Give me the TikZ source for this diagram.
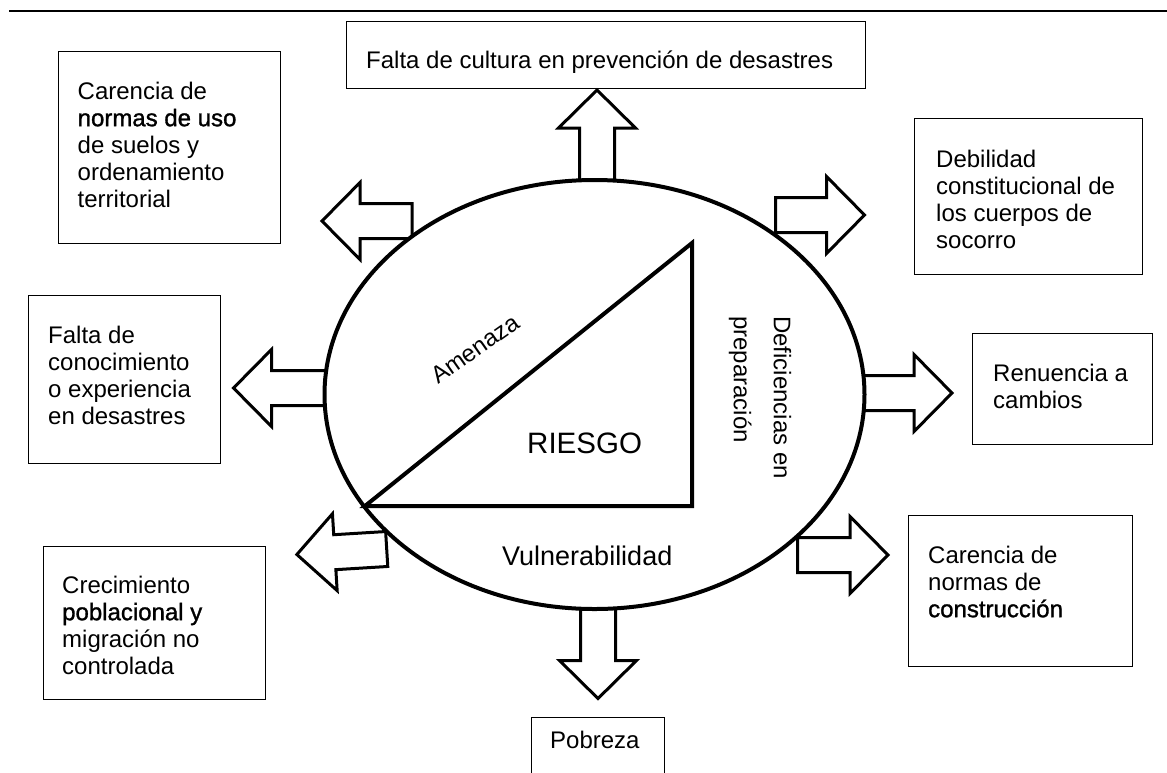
\documentclass[tikz,border=0pt]{standalone}
\usepackage{fontspec}
\setmainfont{Liberation Sans}
\newfontfamily\sbfont[FakeBold=1.2]{Liberation Sans}
\usetikzlibrary{shapes.geometric}
\newcommand\topstrut{\rule{0pt}{19pt}}
\begin{document}
\begin{tikzpicture}[x=1pt,y=-1pt,
  box/.style={draw, line width=1.2pt, inner sep=0pt, anchor=north west},
  txt/.style={inner sep=0pt, anchor=north west, align=left, font=\fontsize{24}{27}\selectfont},
  barrowsty/.style={draw, fill=white, line width=3pt, line join=miter},
  pics/barrow/.style={code={\draw[barrowsty] (0,-17.5) -- ({#1-38},-17.5) -- ({#1-38},-38.5) -- (#1,0) -- ({#1-38},38.5) -- ({#1-38},17.5) -- (0,17.5) -- cycle;}}
]
\useasboundingbox (0,0) rectangle (1167,772);

% top rule
\coordinate (r1) at (9,11);
\coordinate (r2) at (1167,11);
\draw[line width=1.8pt] (r1) -- (r2);

% boxes
\node[box, minimum width=519, minimum height=67] (b1) at (346,21) {};
\node[box, minimum width=222, minimum height=192] (b2) at (58,51) {};
\node[box, minimum width=192.5, minimum height=168] (b3) at (27.5,295) {};
\node[box, minimum width=222, minimum height=153] (b4) at (43,546) {};
\node[box, minimum width=133, minimum height=59] (b5) at (531,717) {};
\node[box, minimum width=228, minimum height=156] (b6) at (914,118) {};
\node[box, minimum width=180, minimum height=111] (b7) at (972,333) {};
\node[box, minimum width=224, minimum height=151] (b8) at (908,515) {};

% box texts
\node[txt] (t1) at (366,49) {\topstrut Falta de cultura en prevención de desastres};
\node[txt] (t2) at (77.5,80) {\topstrut Carencia de\\{\sbfont normas de uso}\\de suelos y\\ordenamiento\\territorial};
\node[txt] (t3) at (48,324) {\topstrut Falta de\\conocimiento\\o experiencia\\en desastres};
\node[txt] (t4) at (62,574) {\topstrut Crecimiento\\{\sbfont poblacional y}\\migración no\\controlada};
\node[txt] (t5) at (550,729) {\topstrut Pobreza};
\node[txt] (t6) at (936,148) {\topstrut Debilidad\\constitucional de\\los cuerpos de\\socorro};
\node[txt] (t7) at (993,362) {\topstrut Renuencia a\\cambios};
\node[txt] (t8) at (928,544) {\topstrut Carencia de\\normas de\\{\sbfont construcción}};

% block arrows
\pic[rotate=90] (aN) at (597,190) {barrow=100};
\pic[rotate=180] (aNW) at (412,221) {barrow=90};
\pic[rotate=180] (aW) at (330,388) {barrow=96.5};
\pic[rotate=183.5] (aSW) at (386.7,549) {barrow=90};
\pic[rotate=270] (aS) at (598,600) {barrow=98.5};
\pic[rotate=0] (aSE) at (797.5,555) {barrow=90.5};
\pic[rotate=0] (aE) at (856,393) {barrow=96};
\pic[rotate=0] (aNE) at (775.5,215) {barrow=89};

% ellipse
\node[draw, fill=white, line width=4pt, ellipse, inner sep=0pt,
      minimum width=540, minimum height=429] (ell) at (594.5,394.5) {};

% triangle
\coordinate (tA) at (365,506);
\coordinate (tB) at (692,243);
\coordinate (tC) at (692,506);
\draw[line width=4pt, line join=miter] (tA) -- (tB) -- (tC) -- cycle;

% inner labels
\node[inner sep=0pt, rotate=35, font=\fontsize{24}{27}\selectfont] (amen) at (475,349) {Amenaza};
\node[inner sep=0pt, anchor=base west, font=\fontsize{29.5}{33}\selectfont] (riesgo) at (527,453) {RIESGO};
\node[inner sep=0pt, anchor=base west, font=\fontsize{27}{30}\selectfont] (vuln) at (502,565) {Vulnerabilidad};
\node[txt, rotate=-90, font=\fontsize{24}{40}\selectfont] (defic) at (793,316) {\topstrut Deficiencias en\\preparación};
\end{tikzpicture}
\end{document}
